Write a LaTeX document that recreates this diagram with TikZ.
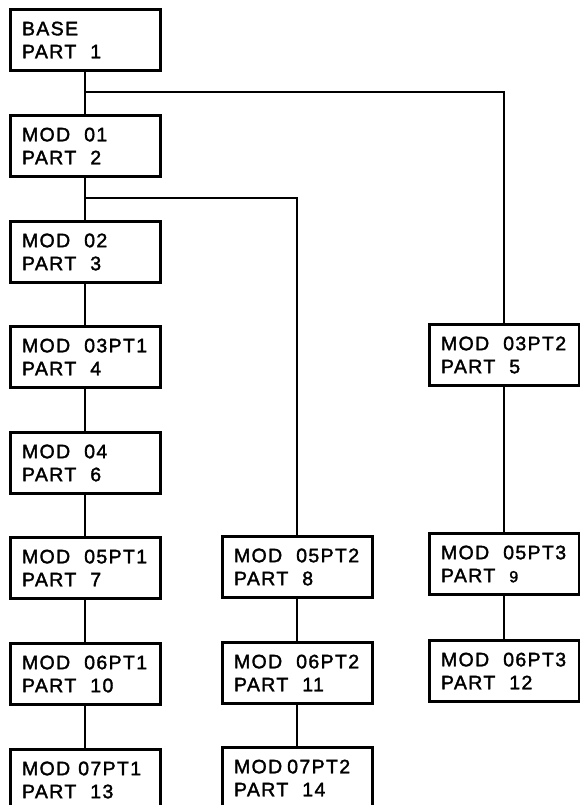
\documentclass[tikz,border=0pt]{standalone}
\usepackage{fontspec}
\setmainfont{Liberation Sans}[FakeBold=1.8, LetterSpace=7]
\usetikzlibrary{positioning}

\newcommand{\wgap}{\hspace{14pt}}
\newcommand{\lownine}{{\fontsize{16}{16}\selectfont 9}}

\tikzset{
  modbox/.style={
    draw, line width=3pt,
    minimum width=150pt, minimum height=61pt,
    text width=126pt, inner xsep=12pt, inner ysep=0pt,
    align=left,
    font=\fontsize{19.5}{23}\selectfont
  },
  link/.style={line width=2.6pt}
}

\begin{document}
\begin{tikzpicture}[x=1pt, y=-1pt]

% Page
\useasboundingbox (0,0) rectangle (580,805);
\clip (0,0) rectangle (580,805);

% Columns
\def\colA{85}
\def\colB{297}
\def\colC{504}

% Main chain
\node[modbox] (base)    at (\colA, 40)  {BASE\\PART\wgap 1};
\node[modbox] (mod01)   at (\colA,146)  {MOD\wgap 01\\PART\wgap 2};
\node[modbox] (mod02)   at (\colA,252)  {MOD\wgap 02\\PART\wgap 3};
\node[modbox] (mod03a)  at (\colA,357)  {MOD\wgap 03PT1\\PART\wgap 4};
\node[modbox] (mod04)   at (\colA,463)  {MOD\wgap 04\\PART\wgap 6};
\node[modbox] (mod05a)  at (\colA,568)  {MOD\wgap 05PT1\\PART\wgap 7};
\node[modbox] (mod06a)  at (\colA,674)  {MOD\wgap 06PT1\\PART\wgap 10};
\node[modbox] (mod07a)  at (\colA,780)  {MOD\kern8pt 07PT1\\PART\wgap 13};

% Middle chain
\node[modbox] (mod05b)  at (\colB,567)  {MOD\wgap 05PT2\\PART\wgap 8};
\node[modbox] (mod06b)  at (\colB,673)  {MOD\wgap 06PT2\\PART\wgap 11};
\node[modbox] (mod07b)  at (\colB,778)  {MOD\kern5pt 07PT2\\PART\wgap 14};

% Right chain
\node[modbox] (mod03c)  at (\colC,355)  {MOD\wgap 03PT2\\PART\wgap 5};
\node[modbox] (mod05c)  at (\colC,564)  {MOD\wgap 05PT3\\PART\wgap \lownine};
\node[modbox] (mod06c)  at (\colC,671)  {MOD\wgap 06PT3\\PART\wgap 12};

% Branch points
\coordinate (splitA) at (\colA, 92);
\coordinate (splitB) at (\colA,198);

% Links
\draw[link] (base) -- (mod01);
\draw[link] (mod01) -- (mod02);
\draw[link] (mod02) -- (mod03a);
\draw[link] (mod03a) -- (mod04);
\draw[link] (mod04) -- (mod05a);
\draw[link] (mod05a) -- (mod06a);
\draw[link] (mod06a) -- (mod07a);

\draw[link] (splitA) -| (mod03c);
\draw[link] (mod03c) -- (mod05c);
\draw[link] (mod05c) -- (mod06c);

\draw[link] (splitB) -| (mod05b);
\draw[link] (mod05b) -- (mod06b);
\draw[link] (mod06b) -- (mod07b);

\end{tikzpicture}
\end{document}
